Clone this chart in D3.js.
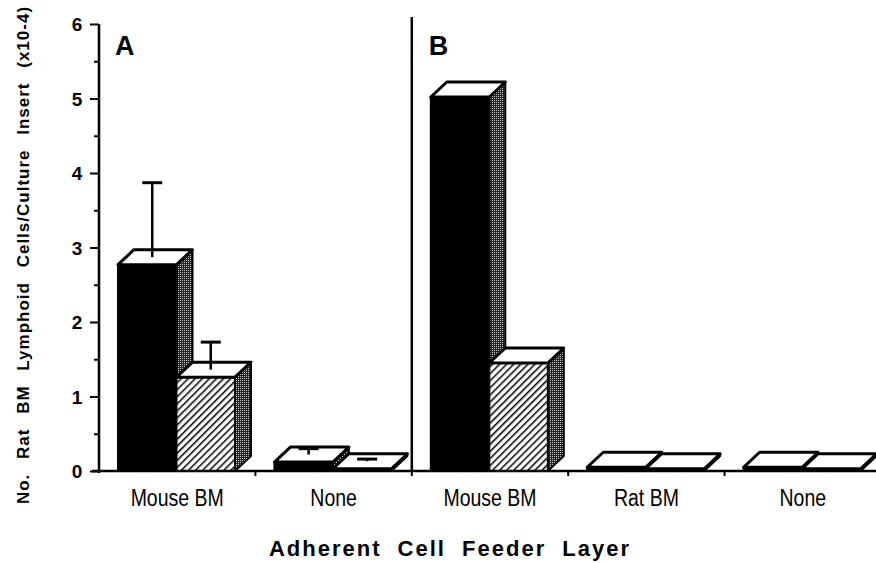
<!DOCTYPE html>
<html>
<head>
<meta charset="utf-8">
<script src="https://cdn.jsdelivr.net/npm/d3@7"></script>
<style>
  body { margin: 0; background: #fff; }
  text { font-family: "Liberation Sans", Arial, sans-serif; }
</style>
</head>
<body>
<div id="main"></div>
<script>
// data
const panels = ["A", "A", "B", "B", "B"];
const categories = ["Mouse BM", "None", "Mouse BM", "Rat BM", "None"];
const solidValues = [2.77, 0.12, 5.02, 0.05, 0.05];
const solidErrors = [1.1, 0.18, 0, 0, 0];
const hatchValues = [1.26, 0.03, 1.45, 0.03, 0.03];
const hatchErrors = [0.47, 0.13, 0, 0, 0];
const yTicks = [0, 1, 2, 3, 4, 5, 6];

const width = 876, height = 563;
const depthX = 16, depthY = 15;

const svg = d3.select('#main')
  .append('svg')
  .attr('width', width)
  .attr('height', height);

const defs = svg.append('defs');

// diagonal hatch
const hatch = defs.append('pattern')
  .attr('id', 'hatch')
  .attr('patternUnits', 'userSpaceOnUse')
  .attr('width', 5)
  .attr('height', 5)
  .attr('patternTransform', 'rotate(45)');
hatch.append('rect').attr('width', 5).attr('height', 5).attr('fill', '#fff');
hatch.append('rect').attr('width', 1.5).attr('height', 5).attr('fill', '#000');

// stipple for side faces
const dots = defs.append('pattern')
  .attr('id', 'dots')
  .attr('patternUnits', 'userSpaceOnUse')
  .attr('width', 2)
  .attr('height', 2);
dots.append('rect').attr('width', 2).attr('height', 2).attr('fill', '#222');
dots.append('rect').attr('width', 1).attr('height', 1).attr('fill', '#ccc');

const keys = categories.map((c, i) => panels[i] + '-' + c);

const x = d3.scaleBand()
  .domain(keys)
  .range([99, 881]);

const xSeries = d3.scaleBand()
  .domain(['solid', 'hatch'])
  .range([19, 136]);

const y = d3.scaleLinear()
  .domain([0, 6])
  .range([471, 24]);

const bars = [];
keys.forEach((k, i) => {
  bars.push({ key: k, series: 'solid', value: solidValues[i], err: solidErrors[i] });
  bars.push({ key: k, series: 'hatch', value: hatchValues[i], err: hatchErrors[i] });
});

const g = svg.selectAll('.bar')
  .data(bars)
  .enter().append('g')
  .attr('class', 'bar');

const bx = (d) => x(d.key) + xSeries(d.series);
const bw = xSeries.bandwidth();

// side face
g.append('path')
  .attr('d', (d) => {
    const x1 = bx(d) + bw, y0 = y(0), y1 = y(d.value);
    return `M${x1},${y0}L${x1 + depthX},${y0 - depthY}L${x1 + depthX},${y1 - depthY}L${x1},${y1}Z`;
  })
  .attr('fill', 'url(#dots)')
  .attr('stroke', '#000')
  .attr('stroke-width', 2)
  .attr('stroke-linejoin', 'round');

// front face
g.append('rect')
  .attr('x', bx)
  .attr('y', (d) => y(d.value))
  .attr('width', bw)
  .attr('height', (d) => y(0) - y(d.value))
  .attr('fill', (d) => d.series === 'solid' ? '#000' : 'url(#hatch)')
  .attr('stroke', '#000')
  .attr('stroke-width', 2);

// top face
g.append('path')
  .attr('d', (d) => {
    const x0 = bx(d), y1 = y(d.value);
    return `M${x0},${y1}L${x0 + depthX},${y1 - depthY}L${x0 + bw + depthX},${y1 - depthY}L${x0 + bw},${y1}Z`;
  })
  .attr('fill', '#fff')
  .attr('stroke', '#000')
  .attr('stroke-width', 3)
  .attr('stroke-linejoin', 'round');

// error bars
const eb = g.filter((d) => d.err > 0);
eb.append('line')
  .attr('x1', (d) => bx(d) + bw / 2 + depthX / 2 - 3)
  .attr('x2', (d) => bx(d) + bw / 2 + depthX / 2 - 3)
  .attr('y1', (d) => y(d.value) - depthY / 2)
  .attr('y2', (d) => y(d.value + d.err))
  .attr('stroke', '#000')
  .attr('stroke-width', 2.5);
eb.append('line')
  .attr('x1', (d) => bx(d) + bw / 2 + depthX / 2 - 13)
  .attr('x2', (d) => bx(d) + bw / 2 + depthX / 2 + 7)
  .attr('y1', (d) => y(d.value + d.err))
  .attr('y2', (d) => y(d.value + d.err))
  .attr('stroke', '#000')
  .attr('stroke-width', 3);

// y axis
const yAxis = svg.append('g')
  .attr('transform', 'translate(99,0)')
  .call(d3.axisLeft(y).tickValues(d3.range(0, 6.01, 0.5)).tickSize(5).tickFormat(''));
yAxis.select('.domain').remove();
yAxis.selectAll('.tick line')
  .attr('stroke-width', 2)
  .attr('x2', (d) => Number.isInteger(d) ? -9 : -5);
svg.append('line')
  .attr('x1', 99).attr('x2', 99)
  .attr('y1', y(6)).attr('y2', y(0) + 2)
  .attr('stroke', '#000').attr('stroke-width', 2.5);

svg.selectAll('.ylab')
  .data(yTicks)
  .enter().append('text')
  .attr('class', 'ylab')
  .attr('x', 77)
  .attr('y', (d) => y(d) + 7)
  .attr('text-anchor', 'middle')
  .attr('font-size', '19px')
  .attr('font-weight', 'bold')
  .text((d) => d);

// x axis
svg.append('line')
  .attr('x1', 92).attr('x2', width)
  .attr('y1', y(0)).attr('y2', y(0))
  .attr('stroke', '#000').attr('stroke-width', 2.5);

svg.selectAll('.xtick')
  .data(keys.slice(1))
  .enter().append('line')
  .attr('x1', (d) => x(d)).attr('x2', (d) => x(d))
  .attr('y1', y(0)).attr('y2', y(0) + 5)
  .attr('stroke', '#000').attr('stroke-width', 2);

svg.selectAll('.xlab')
  .data(keys)
  .enter().append('text')
  .attr('transform', (d) => `translate(${x(d) + x.bandwidth() / 2},506) scale(1,1.18)`)
  .attr('text-anchor', 'middle')
  .attr('font-size', '19.5px')
  .text((d, i) => categories[i]);

// panel divider
svg.append('line')
  .attr('x1', x(keys[2])).attr('x2', x(keys[2]))
  .attr('y1', 17).attr('y2', y(0))
  .attr('stroke', '#000').attr('stroke-width', 2.5);

// panel letters
svg.selectAll('.panel')
  .data(['A', 'B'])
  .enter().append('text')
  .attr('x', (d) => d === 'A' ? x(keys[0]) + 16 : x(keys[2]) + 17)
  .attr('y', 55)
  .attr('font-size', '27px')
  .attr('font-weight', 'bold')
  .text((d) => d);

// axis titles
svg.append('text')
  .attr('x', 450)
  .attr('y', 556)
  .attr('text-anchor', 'middle')
  .attr('font-size', '22px')
  .attr('font-weight', 'bold')
  .attr('letter-spacing', '2px')
  .attr('word-spacing', '8px')
  .text('Adherent Cell Feeder Layer');

svg.append('text')
  .attr('transform', 'translate(29,255) rotate(-90)')
  .attr('text-anchor', 'middle')
  .attr('font-size', '17px')
  .attr('font-weight', 'bold')
  .attr('letter-spacing', '1px')
  .attr('word-spacing', '9px')
  .text('No. Rat BM Lymphoid Cells/Culture Insert (x10-4)');
</script>
</body>
</html>
